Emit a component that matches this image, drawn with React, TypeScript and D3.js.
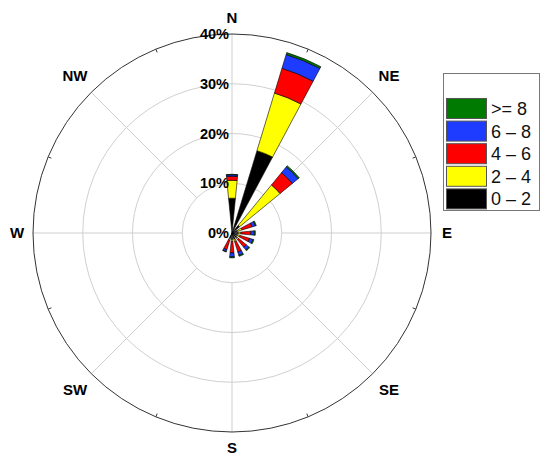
import React, { useEffect, useRef } from "react";
import * as d3 from "d3";

// 16 compass directions, clockwise from North
const directions = ["N", "NNE", "NE", "ENE", "E", "ESE", "SE", "SSE", "S", "SSW", "SW", "WSW", "W", "WNW", "NW", "NNW"];

// frequency (%) of each speed class per direction
const speed0to2 = [7.0, 17.3, 2.0, 1.2, 1.2, 1.2, 1.3, 1.3, 1.3, 1.2, 0, 0, 0, 0, 0, 0];
const speed2to4 = [3.6, 12.1, 10.5, 0.9, 0.6, 0.5, 0.4, 0.5, 0.4, 0.3, 0, 0, 0, 0, 0, 0];
const speed4to6 = [0.8, 5.2, 3.2, 2.1, 2.0, 2.0, 2.0, 2.2, 2.3, 2.0, 0, 0, 0, 0, 0, 0];
const speed6to8 = [0.3, 2.9, 1.5, 0.7, 0.7, 0.7, 0.7, 0.7, 0.8, 0.4, 0, 0, 0, 0, 0, 0];
const speed8plus = [0.1, 0.4, 0.3, 0.2, 0.2, 0.2, 0.2, 0.2, 0.2, 0.1, 0, 0, 0, 0, 0, 0];

const seriesLabels = ["0 – 2", "2 – 4", "4 – 6", "6 – 8", ">= 8"];
const seriesColors = ["#000000", "#ffff00", "#ff0000", "#1e3cff", "#007a00"];

const radialTicks = [0, 10, 20, 30, 40];
const compassLabels = ["N", "NE", "E", "SE", "S", "SW", "W", "NW"];

export default function App() {
  const svgRef = useRef<SVGSVGElement>(null);

  useEffect(() => {
    const width = 550;
    const height = 462;
    const cx = 232;
    const cy = 233;
    const R = 199;
    const font = "Arial, 'Liberation Sans', sans-serif";

    const svg = d3.select(svgRef.current);
    svg.selectAll("*").remove();
    svg.attr("width", width).attr("height", height);

    svg.append("rect").attr("width", width).attr("height", height).attr("fill", "#fff");

    const r = d3.scaleLinear().domain([0, 40]).range([0, R]);
    const g = svg.append("g").attr("transform", `translate(${cx},${cy})`);

    // inner grid rings
    radialTicks.slice(1, -1).forEach(v => {
      g.append("circle")
        .attr("r", r(v))
        .attr("fill", "none")
        .attr("stroke", "#d0d0d0")
        .attr("stroke-width", 1);
    });

    // spokes every 45 degrees, starting at the 10% ring
    d3.range(8).forEach(i => {
      const a = (i * 45 * Math.PI) / 180;
      g.append("line")
        .attr("x1", r(10) * Math.sin(a))
        .attr("y1", -r(10) * Math.cos(a))
        .attr("x2", R * Math.sin(a))
        .attr("y2", -R * Math.cos(a))
        .attr("stroke", "#cfcfcf")
        .attr("stroke-width", 1);
    });

    // outer circle and small ticks
    g.append("circle")
      .attr("r", R)
      .attr("fill", "none")
      .attr("stroke", "#333")
      .attr("stroke-width", 1);

    d3.range(8).forEach(i => {
      const a = ((22.5 + i * 45) * Math.PI) / 180;
      g.append("line")
        .attr("x1", (R - 3.5) * Math.sin(a))
        .attr("y1", -(R - 3.5) * Math.cos(a))
        .attr("x2", R * Math.sin(a))
        .attr("y2", -R * Math.cos(a))
        .attr("stroke", "#333")
        .attr("stroke-width", 1);
    });

    // stacked bars
    const series = [speed0to2, speed2to4, speed4to6, speed6to8, speed8plus];
    const step = (2 * Math.PI) / directions.length;
    const halfWidth = step / 4;
    const arc = d3.arc<any>();

    directions.forEach((dir, i) => {
      const angle = i * step;
      let base = 0;
      series.forEach((vals, s) => {
        const v = vals[i];
        if (v <= 0) return;
        g.append("path")
          .attr("d", arc({
            innerRadius: r(base),
            outerRadius: r(base + v),
            startAngle: angle - halfWidth,
            endAngle: angle + halfWidth,
          }))
          .attr("fill", seriesColors[s])
          .attr("stroke", "#000")
          .attr("stroke-width", 0.6);
        base += v;
      });
    });

    // radial labels
    radialTicks.forEach(v => {
      g.append("text")
        .attr("x", -3)
        .attr("y", -r(v))
        .attr("dy", "0.36em")
        .attr("text-anchor", "end")
        .attr("font-family", font)
        .attr("font-weight", "bold")
        .attr("font-size", 14.5)
        .attr("fill", "#000")
        .text(`${v}%`);
    });

    // compass labels
    compassLabels.forEach((lab, i) => {
      const a = (i * 45 * Math.PI) / 180;
      const rr = i % 2 === 0 ? 215 : 222;
      g.append("text")
        .attr("x", rr * Math.sin(a))
        .attr("y", -rr * Math.cos(a))
        .attr("dy", "0.36em")
        .attr("text-anchor", "middle")
        .attr("font-family", font)
        .attr("font-weight", "bold")
        .attr("font-size", 15)
        .attr("fill", "#000")
        .text(lab);
    });

    // legend
    const legend = svg.append("g");
    legend.append("rect")
      .attr("x", 443.5)
      .attr("y", 73.5)
      .attr("width", 96)
      .attr("height", 137)
      .attr("fill", "#fff")
      .attr("stroke", "#777")
      .attr("stroke-width", 1);

    const order = [4, 3, 2, 1, 0];
    order.forEach((s, k) => {
      const y = 98.5 + k * 22.6;
      legend.append("rect")
        .attr("x", 446.5)
        .attr("y", y)
        .attr("width", 40)
        .attr("height", 20)
        .attr("fill", seriesColors[s])
        .attr("stroke", "#555")
        .attr("stroke-width", 1);
      legend.append("text")
        .attr("x", 491)
        .attr("y", y + 10)
        .attr("dy", "0.36em")
        .attr("font-family", font)
        .attr("font-size", 18)
        .attr("fill", "#111")
        .text(seriesLabels[s]);
    });
  }, []);

  return (
    <div style={{ position: "absolute", left: 0, top: 0 }}>
      <svg ref={svgRef}></svg>
    </div>
  );
}
